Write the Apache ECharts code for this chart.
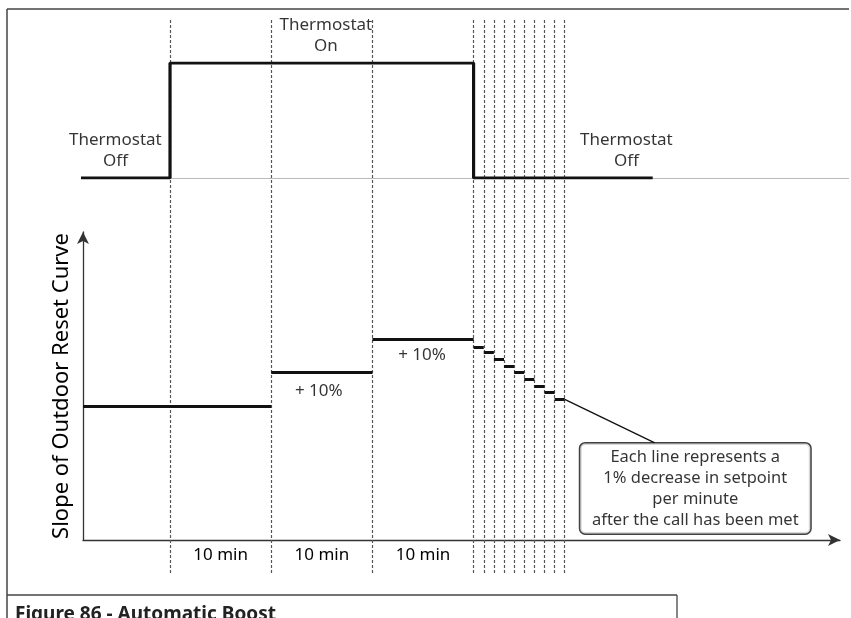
<!DOCTYPE html>
<html>
<head>
<meta charset="utf-8">
<script src="https://cdn.jsdelivr.net/npm/echarts@6/dist/echarts.min.js"></script>
<style>
  html, body { margin: 0; padding: 0; background: #fff; }
  #chart { width: 851px; height: 618px; }
</style>
</head>
<body>
<div id="chart"></div>
<script>
// time in minutes, 0 = thermostat call starts
const thermostatTimes = [-8.9, 0, 0, 30, 30, 47.7];
const thermostatStates = [0, 0, 1, 1, 0, 0];
const baselineRange = [-8.9, 67.1];

// dashed minute markers: three 10 min blocks, then one per minute
const dividerMinutes = [0, 10, 20, 30, 31, 32, 33, 34, 35, 36, 37, 38, 39];

// slope of outdoor reset curve (relative units, base 40, each boost +10)
const slopeStart = [-8.6, 10, 20, 30, 31, 32, 33, 34, 35, 36, 37, 38];
const slopeEnd = [10, 20, 30, 31, 32, 33, 34, 35, 36, 37, 38, 39];
const slopeLevel = [40, 50, 60, 57.5, 56, 54, 52, 50, 48, 46, 44, 42];

const intervalCenters = [5, 15, 25];
const intervalLabel = "10 min";
const boostLabels = ["+ 10%", "+ 10%"];
const boostAnchors = [[14.7, 44.5], [24.9, 55.3]];
const stateLabels = ["Thermostat\nOff", "Thermostat\nOn", "Thermostat\nOff"];
const stateAnchors = [[-5.4, 0.24], [15.4, 1.24], [45.1, 0.24]];
const noteText = "Each line represents a\n1% decrease in setpoint\nper minute\nafter the call has been met";
const noteAnchor = [51.9, 15.4];
const pointerFrom = [39, 42];
const pointerTo = [47.9, 29.0];
const caption = "Figure 86 - Automatic Boost";

const INK = "#000";
const FONT = "'Noto Sans', 'Open Sans', sans-serif";

const chart = echarts.init(document.getElementById("chart"));

const hiddenY = { type: "value", show: false, min: 0, max: 1 };
const hiddenX = (idx, max) => ({ type: "value", gridIndex: idx, show: false, min: -8.6, max: max });

const option = {
  animation: false,
  textStyle: { fontFamily: FONT },
  title: {
    text: caption,
    left: 15,
    top: 605,
    padding: 0,
    textStyle: { fontFamily: FONT, fontSize: 19, fontWeight: "bold", color: "#222" },
  },
  grid: [
    { left: 83, right: 2, top: 63, bottom: 440 },
    { left: 83, right: 11, top: 232, bottom: 78 },
    { left: 83, right: 11, top: 20, bottom: 45 },
  ],
  xAxis: [
    hiddenX(0, 67.1),
    {
      type: "value",
      gridIndex: 1,
      min: -8.6,
      max: 66.2,
      axisLine: {
        show: true,
        onZero: false,
        symbol: ["none", "arrow"],
        symbolSize: [9, 12],
        lineStyle: { color: "#333", width: 1.3 },
      },
      axisTick: { show: false },
      splitLine: { show: false },
      axisLabel: {
        customValues: intervalCenters,
        formatter: () => intervalLabel,
        color: INK,
        fontSize: 17,
        margin: 7,
      },
    },
    hiddenX(2, 66.2),
  ],
  yAxis: [
    Object.assign({ gridIndex: 0 }, hiddenY),
    {
      type: "value",
      gridIndex: 1,
      min: 0,
      max: 92,
      name: "Slope of Outdoor Reset Curve",
      nameLocation: "middle",
      nameGap: 10,
      nameTextStyle: { fontSize: 22, color: INK },
      axisLine: {
        show: true,
        onZero: false,
        symbol: ["none", "arrow"],
        symbolSize: [9, 12],
        lineStyle: { color: "#333", width: 1.3 },
      },
      axisTick: { show: false },
      axisLabel: { show: false },
      splitLine: { show: false },
    },
    Object.assign({ gridIndex: 2 }, hiddenY),
  ],
  series: [
    {
      type: "lines",
      coordinateSystem: "cartesian2d",
      xAxisIndex: 2,
      yAxisIndex: 2,
      silent: true,
      z: 1,
      lineStyle: { color: "#555", width: 1.2, type: [3, 2], opacity: 1 },
      data: dividerMinutes.map((m) => ({ coords: [[m, 0], [m, 1]] })),
    },
    {
      type: "lines",
      coordinateSystem: "cartesian2d",
      xAxisIndex: 0,
      yAxisIndex: 0,
      silent: true,
      z: 2,
      lineStyle: { color: "#777", width: 1, opacity: 1 },
      data: [{ coords: [[baselineRange[0], 0], [baselineRange[1], 0]] }],
    },
    {
      type: "line",
      xAxisIndex: 0,
      yAxisIndex: 0,
      symbol: "none",
      z: 5,
      lineStyle: { color: "#111", width: 3.2 },
      data: thermostatTimes.map((t, i) => [t, thermostatStates[i]]),
    },
    {
      type: "lines",
      coordinateSystem: "cartesian2d",
      xAxisIndex: 1,
      yAxisIndex: 1,
      silent: true,
      z: 5,
      lineStyle: { color: "#111", width: 3.2, opacity: 1 },
      data: slopeStart.map((s, i) => ({ coords: [[s, slopeLevel[i]], [slopeEnd[i], slopeLevel[i]]] })),
    },
    {
      type: "lines",
      coordinateSystem: "cartesian2d",
      xAxisIndex: 1,
      yAxisIndex: 1,
      silent: true,
      z: 4,
      lineStyle: { color: "#111", width: 1.3, opacity: 1 },
      data: [{ coords: [pointerFrom, pointerTo] }],
    },
    {
      type: "scatter",
      xAxisIndex: 0,
      yAxisIndex: 0,
      clip: false,
      symbolSize: 0,
      silent: true,
      label: { show: true, position: "inside", color: INK, fontSize: 17, lineHeight: 21, align: "center" },
      data: stateAnchors.map((p, i) => ({ value: p, label: { formatter: stateLabels[i] } })),
    },
    {
      type: "scatter",
      xAxisIndex: 1,
      yAxisIndex: 1,
      clip: false,
      symbolSize: 0,
      silent: true,
      label: { show: true, position: "inside", color: INK, fontSize: 17 },
      data: boostAnchors.map((p, i) => ({ value: p, label: { formatter: boostLabels[i] } })),
    },
    {
      type: "scatter",
      xAxisIndex: 1,
      yAxisIndex: 1,
      clip: false,
      symbolSize: 0,
      silent: true,
      z: 6,
      label: {
        show: true,
        position: "inside",
        formatter: noteText,
        color: INK,
        fontSize: 16.5,
        lineHeight: 21,
        align: "center",
        width: 214,
        backgroundColor: "#fff",
        borderColor: "#111",
        borderWidth: 1.5,
        borderRadius: 5,
        padding: [3, 8, 3, 8],
      },
      data: [noteAnchor],
    },
  ],
  graphic: [
    { type: "line", shape: { x1: 7, y1: 9, x2: 849, y2: 9 }, style: { stroke: "#444", lineWidth: 1.5 } },
    { type: "line", shape: { x1: 7, y1: 9, x2: 7, y2: 618 }, style: { stroke: "#444", lineWidth: 1.5 } },
    { type: "line", shape: { x1: 7, y1: 595, x2: 677, y2: 595 }, style: { stroke: "#444", lineWidth: 1.3 } },
    { type: "line", shape: { x1: 677, y1: 595, x2: 677, y2: 618 }, style: { stroke: "#444", lineWidth: 1.3 } },
  ],
};

chart.setOption(option);
</script>
</body>
</html>
